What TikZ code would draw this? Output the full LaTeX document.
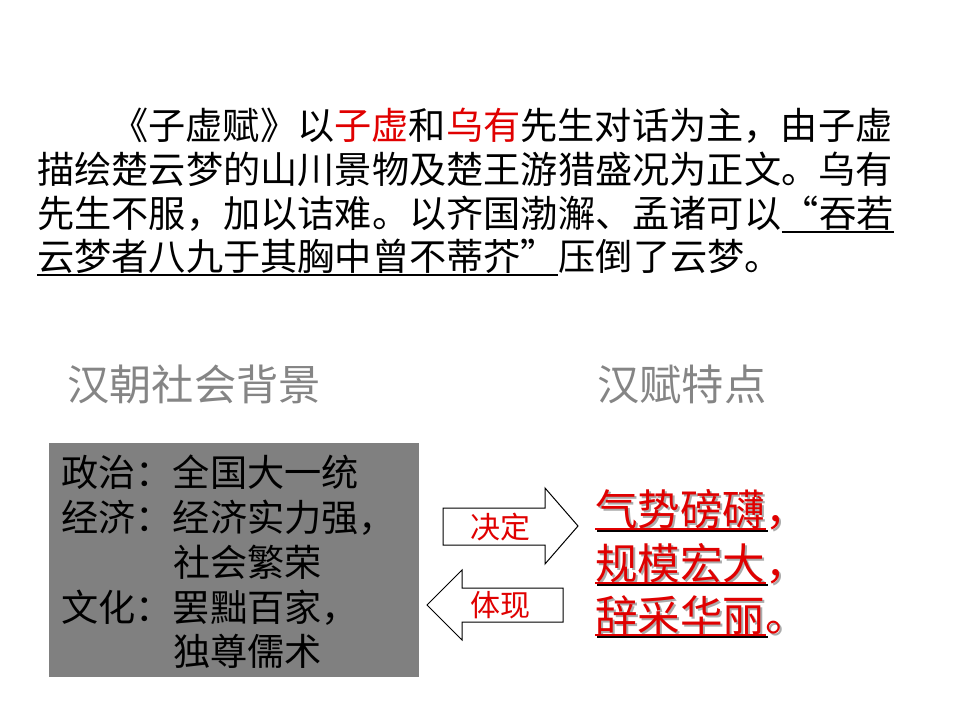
\documentclass[tikz,border=0pt]{standalone}
\usepackage{fontspec}
\newfontfamily\cjk{Noto Sans CJK SC}
\usepackage{tikz}
\usetikzlibrary{positioning}
\definecolor{hanred}{HTML}{E00000}
\definecolor{boxgray}{HTML}{808080}
\definecolor{headgray}{HTML}{858585}
\definecolor{shade}{HTML}{ABABAB}
\tikzset{
    body/.style={font=\cjk\fontsize{27.9}{30}\selectfont,inner sep=0pt,anchor=base west},
    head/.style={font=\cjk\fontsize{31.7}{34}\selectfont,inner sep=0pt,anchor=base west,text=headgray},
    feat/.style={font=\cjk\fontsize{31.9}{34}\selectfont,inner sep=0pt,anchor=base west,text=hanred},
    featshade/.style={feat,text=shade},
    tag/.style={font=\cjk\fontsize{22.5}{24}\selectfont,inner sep=0pt,text=hanred},
    blockarrow/.style={draw=black,fill=white,line width=0.75pt,line join=miter},
    uline/.style={line width=2.2pt},
}

\begin{document}
\begin{tikzpicture}[x=0.75pt,y=-0.75pt]
    \useasboundingbox (0,0) rectangle (960,720);
    % the passage
    \node[body] (para1) at (111,140) {《子虚赋》以\textcolor{hanred}{子虚}和\textcolor{hanred}{乌有}先生对话为主，由子虚};
    \node[body] (para2) at (37,184) {描绘楚云梦的山川景物及楚王游猎盛况为正文。乌有};
    \node[body] (para3) at (37,228) {先生不服，加以诘难。以齐国渤澥、孟诸可以};
    \node[body,base right=0pt of para3] (quote3) {\makebox[1em][r]{“}吞若};
    \node[body] (quote4) at (37,271) {云梦者八九于其胸中曾不蒂芥\makebox[1em][l]{”}};
    \node[body,base right=0pt of quote4] (para4) {压倒了云梦。};
    \draw[uline] ([yshift=-3pt]quote3.base west) -- ([yshift=-3pt]quote3.base east);
    \draw[uline] ([yshift=-3pt]quote4.base west) -- ([yshift=-3pt]quote4.base east);

    % headings
    \node[head] (bgtitle) at (67,400) {汉朝社会背景};
    \node[head] (fttitle) at (597,400) {汉赋特点};

    % background box
    \fill[boxgray] (49,443) rectangle (419,677);
    \node[body] (politics) at (61,486) {政治：全国大一统};
    \node[body] (economy) at (61,531) {经济：经济实力强，};
    \node[body] (economy2) at (173,576) {社会繁荣};
    \node[body] (culture) at (61,621) {文化：罢黜百家，};
    \node[body] (culture2) at (173,665) {独尊儒术};

    % arrows
    \draw[blockarrow] (443,508) -- (545,508) -- (545,488) -- (578,526) -- (545,564) -- (545,545) -- (443,545) -- cycle;
    \node[tag] (decide) at (500,527) {决定};
    \draw[blockarrow] (563,588) -- (462,588) -- (462,570) -- (427,605) -- (462,640) -- (462,622) -- (563,622) -- cycle;
    \node[tag] (embody) at (500,605) {体现};

    % features, with shadow
    \node[featshade] (fs1) at (597,527) {气势磅礴，};
    \node[featshade] (fs2) at (597,581) {规模宏大，};
    \node[featshade] (fs3) at (597,633) {辞采华丽。};
    \node[feat] (f1) at (595,525) {气势磅礴};
    \node[feat,base right=0pt of f1] (p1) {，};
    \node[feat] (f2) at (595,579) {规模宏大};
    \node[feat,base right=0pt of f2] (p2) {，};
    \node[feat] (f3) at (595,631) {辞采华丽};
    \node[feat,base right=0pt of f3] (p3) {。};
    \draw[uline,shade] ([shift={(1.5pt,-4.5pt)}]f1.base west) -- ([shift={(1.5pt,-4.5pt)}]f1.base east);
    \draw[uline,shade] ([shift={(1.5pt,-4.5pt)}]f2.base west) -- ([shift={(1.5pt,-4.5pt)}]f2.base east);
    \draw[uline,shade] ([shift={(1.5pt,-4.5pt)}]f3.base west) -- ([shift={(1.5pt,-4.5pt)}]f3.base east);
    \draw[uline,hanred] ([yshift=-3pt]f1.base west) -- ([yshift=-3pt]f1.base east);
    \draw[uline,hanred] ([yshift=-3pt]f2.base west) -- ([yshift=-3pt]f2.base east);
    \draw[uline,hanred] ([yshift=-3pt]f3.base west) -- ([yshift=-3pt]f3.base east);
\end{tikzpicture}
\end{document}
